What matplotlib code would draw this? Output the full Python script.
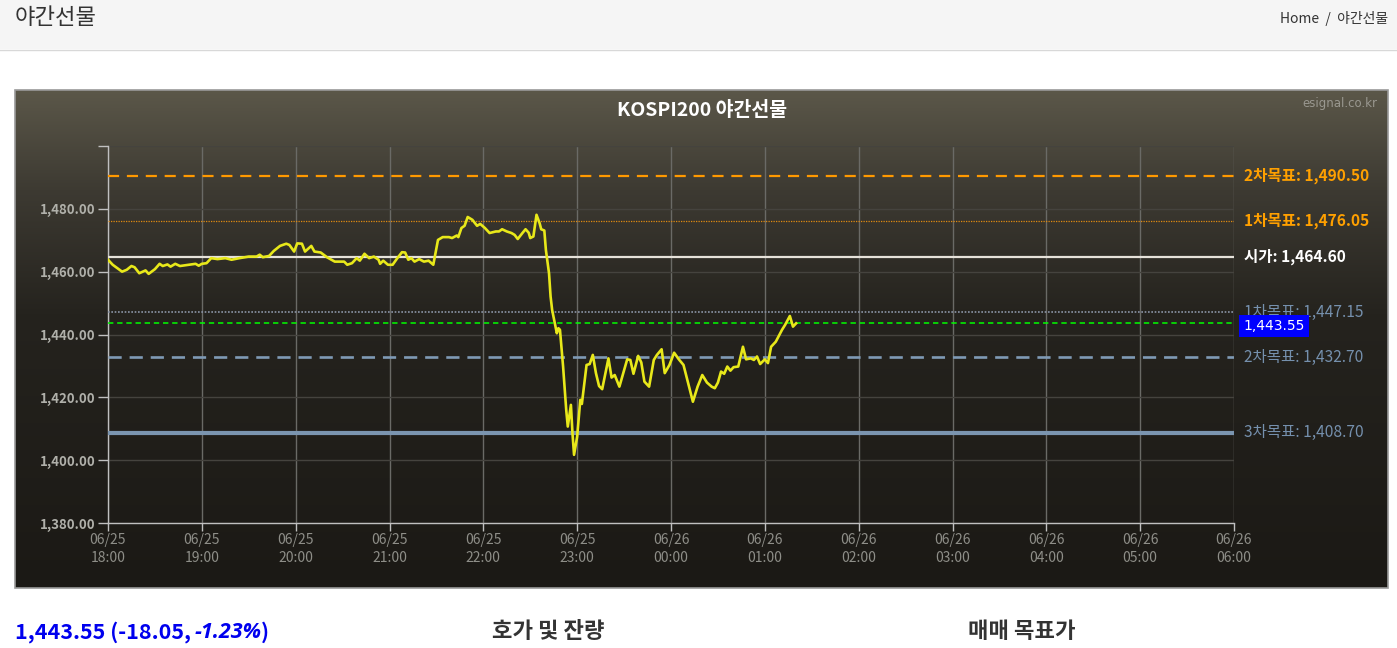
import numpy as np
import pandas as pd
import matplotlib
matplotlib.use("Agg")
import matplotlib.pyplot as plt
import matplotlib.dates as mdates
from matplotlib.patches import Rectangle
from matplotlib.colors import LinearSegmentedColormap

plt.rcParams['font.family'] = ['Noto Sans CJK KR', 'DejaVu Sans']

# minutes after 06/25 18:00 and the traded price
minutes = [0, 3, 9, 12, 15, 17, 20, 24, 26, 30, 33, 35, 38, 40, 43, 46, 52, 56, 58, 60,
           63, 66, 70, 75, 79, 84, 90, 95, 97, 99, 103, 106, 110, 114, 116, 119, 121, 124, 126, 130,
           132, 136, 140, 145, 151, 153, 156, 159, 161, 164, 167, 170, 173, 174, 176, 179, 182, 185, 188, 190,
           192, 194, 196, 199, 202, 205, 208, 211, 214, 218, 220, 223, 224, 226, 228, 230, 233, 236, 238, 241,
           244, 248, 250, 252, 255, 258, 260, 262, 265, 267, 269, 270, 272, 274, 276, 277, 279,
           280, 282, 283, 284, 287, 288, 289, 291, 293, 294, 296, 297, 298, 300, 302, 303, 306, 308, 310, 312,
           314, 316, 320, 322, 324, 327, 332, 334, 336, 339, 341, 343,
           346, 349, 351, 354, 356, 359, 362, 365, 368, 371, 374, 377, 380, 383, 386, 388, 390, 392, 394, 396,
           398, 400, 403, 406, 408, 411, 413, 415, 417, 420, 422, 424, 427, 431, 433, 436, 438, 440]
prices = [1463.8, 1462.2, 1460.0, 1460.6, 1461.8, 1461.4, 1459.5, 1460.4, 1459.3, 1460.8,
          1462.5, 1461.8, 1462.3, 1461.6, 1462.5, 1461.8, 1462.2, 1462.5, 1461.9, 1462.5,
          1462.7, 1464.3, 1464.0, 1464.3, 1463.8, 1464.3, 1464.8, 1464.8, 1465.4, 1464.6,
          1465.0, 1466.6, 1468.2, 1468.9, 1468.5, 1466.4, 1469.0, 1468.9, 1466.4, 1468.2,
          1466.4, 1466.1, 1464.6, 1463.2, 1463.2, 1462.2, 1462.7, 1464.3, 1463.5, 1465.7,
          1464.3, 1464.8, 1463.8, 1462.5, 1463.5, 1462.2, 1462.2, 1464.3, 1466.2, 1466.1,
          1463.8, 1464.3, 1463.2, 1464.0, 1463.2, 1463.5, 1462.2, 1470.1, 1471.0, 1471.0,
          1470.7, 1471.5, 1471.0, 1473.9, 1474.6, 1477.4, 1476.5, 1474.6, 1475.2, 1473.9,
          1472.3, 1472.8, 1472.8, 1473.5, 1472.8, 1472.3, 1471.7, 1470.4, 1472.3, 1473.5,
          1472.4, 1470.7, 1471.2, 1478.1, 1475.4, 1473.5, 1473.1,
          1466.9, 1459.5, 1452.1, 1447.8, 1440.4, 1442.0, 1441.5, 1429.8, 1416.0, 1410.7,
          1417.6, 1408.6, 1401.7, 1407.5, 1419.2, 1417.9, 1430.3, 1430.6, 1433.5, 1427.7,
          1423.6, 1422.6, 1432.4, 1426.3, 1427.1, 1423.4, 1432.1, 1431.9, 1427.5, 1433.2,
          1431.1, 1425.0,
          1423.4, 1431.9, 1433.5, 1435.3, 1427.7, 1430.3, 1434.2, 1432.1, 1430.3, 1424.5,
          1418.6, 1423.4, 1427.1, 1424.7, 1423.4, 1422.9, 1424.7, 1428.2, 1427.5, 1429.8,
          1428.5, 1429.6, 1429.8, 1436.1, 1432.1, 1432.4, 1431.9, 1433.0, 1430.6, 1432.1,
          1430.9, 1436.1, 1437.7, 1441.5, 1443.1, 1445.9, 1442.5, 1443.55]

last_price = 1443.55
change = -18.05
change_pct = -1.23

level_names = ["2차목표", "1차목표", "시가", "1차목표", "2차목표", "3차목표"]
level_values = [1490.50, 1476.05, 1464.60, 1447.15, 1432.70, 1408.70]

y_ticks = [1380, 1400, 1420, 1440, 1460, 1480, 1500]

# styles for the level lines (color, width, dashes, label color, label weight)
level_styles = [
    ("#ff9900", 1.6, (0, (5, 3.5)), "#ffa000", "bold"),
    ("#e08a10", 0.9, (0, (1, 1)), "#ffa000", "bold"),
    ("#e6e2da", 1.6, "-", "#ffffff", "bold"),
    ("#8a94a6", 1.2, (0, (1, 1)), "#7590ad", "normal"),
    ("#7f9ab5", 1.9, (0, (5, 3)), "#7590ad", "normal"),
    ("#7b95b0", 3.0, "-", "#7590ad", "normal"),
]

W, H = 1397, 648
fig = plt.figure(figsize=(W / 100, H / 100), dpi=100, facecolor="white")

def fx(px):
    return px / W

def fy(py):
    return 1 - py / H

# page header
fig.patches.append(Rectangle((0, fy(49)), 1, 49 / H, transform=fig.transFigure,
                             facecolor="#f5f5f5", edgecolor="none", zorder=0))
fig.add_artist(plt.Line2D([0, 1], [fy(49.5), fy(49.5)], color="#d8d8d8", lw=1))
fig.text(fx(15), fy(18), "야간선물", fontsize=16, color="#333333", va="center", ha="left")
fig.text(fx(1388), fy(19), "Home  /  야간선물", fontsize=10, color="#333333", va="center", ha="right")

# chart panel with gradient
px0, py0, px1, py1 = 15, 90, 1388, 588
bg = fig.add_axes([fx(px0), fy(py1), (px1 - px0) / W, (py1 - py0) / H], zorder=0)
cmap = LinearSegmentedColormap.from_list(
    "panel", [(0, "#5b5749"), (0.2, "#3d3a32"), (0.45, "#25231e"), (1, "#1b1915")])
grad = np.linspace(0, 1, 256).reshape(-1, 1)
bg.imshow(grad, aspect="auto", cmap=cmap, extent=[0, 1, 0, 1])
bg.set_axis_off()
fig.patches.append(Rectangle((fx(px0), fy(py1)), (px1 - px0) / W, (py1 - py0) / H,
                             transform=fig.transFigure, facecolor="none",
                             edgecolor="#9a9a9a", lw=1.2, zorder=5))

fig.text(fx(702), fy(110), "KOSPI200 야간선물", fontsize=14, fontweight="bold",
         color="white", ha="center", va="center")
fig.text(fx(1377), fy(104), "esignal.co.kr", fontsize=8.5, color="#9a9890",
         ha="right", va="center", family=["DejaVu Sans"])

# main plot
ax = fig.add_axes([fx(108), fy(523), (1234 - 108) / W, (523 - 146) / H], zorder=2)
ax.set_facecolor("none")

t0 = pd.Timestamp("2025-06-25 18:00")
times = t0 + pd.to_timedelta(minutes, unit="min")

ax.set_xlim(t0, t0 + pd.Timedelta(hours=12))
ax.set_ylim(1380, 1500)

ax.xaxis.set_major_locator(mdates.HourLocator())
ax.xaxis.set_major_formatter(mdates.DateFormatter("%m/%d\n%H:%M"))
ax.set_yticks(y_ticks)
ax.set_yticklabels([f"{v:,.2f}" if v < 1500 else "" for v in y_ticks])

ax.grid(axis="x", color="#6a6a66", lw=1)
ax.grid(axis="y", color="#45433e", lw=1)
ax.set_axisbelow(True)
for s in ["top", "right"]:
    ax.spines[s].set_visible(False)
for s in ["left", "bottom"]:
    ax.spines[s].set_color("#c0c0c0")
    ax.spines[s].set_linewidth(1)
ax.tick_params(axis="y", colors="#c0c0c0", length=7, width=1, pad=2,
               labelsize=9.5, labelcolor="#b0b0aa")
ax.tick_params(axis="x", colors="#c0c0c0", length=6, width=1, pad=1,
               labelsize=10, labelcolor="#8e8e88")
for lab in ax.get_yticklabels():
    lab.set_fontweight("bold")
for lab in ax.get_xticklabels():
    lab.set_linespacing(1.35)

for val, name, (c, lw, ls, lc, wt) in zip(level_values, level_names, level_styles):
    ax.axhline(val, color=c, lw=lw, linestyle=ls, zorder=3)
    ax.text(1.0089, val, f"{name}: {val:,.2f}", transform=ax.get_yaxis_transform(),
            color=lc, fontsize=11.2, fontweight=wt, va="center", ha="left", clip_on=False)

ax.axhline(last_price, color="#00ff00", lw=1.1, linestyle=(0, (3.5, 2.5)), zorder=3)
ax.text(1.0085, last_price - 0.8, f"{last_price:,.2f}", transform=ax.get_yaxis_transform(),
        color="white", fontsize=10, va="center", ha="left", zorder=10, family=["DejaVu Sans"],
        bbox=dict(boxstyle="square,pad=0.3", facecolor="#0000ff", edgecolor="none"))

ax.plot(times, prices, color="#e8e81a", lw=1.9, zorder=4, solid_joinstyle="round")

# text below the chart
renderer = fig.canvas.get_renderer()
parts = [(f"{last_price:,.2f} ({change:.2f}, ", "normal", ["Noto Sans CJK KR"]),
         (f"{change_pct:.2f}%", "italic", ["Open Sans", "DejaVu Sans"]),
         (")", "normal", ["Noto Sans CJK KR"])]
x = fx(15)
for s, style, fam in parts:
    t = fig.text(x, fy(632), s, fontsize=15.5, fontweight="bold", fontstyle=style,
                 color="#0000ee", ha="left", va="center", family=fam)
    bb = t.get_window_extent(renderer)
    x = bb.x1 / W - 1 / W

fig.text(fx(492), fy(632), "호가 및 잔량", fontsize=16, fontweight="bold",
         color="#333333", ha="left", va="center")
fig.text(fx(968), fy(632), "매매 목표가", fontsize=16, fontweight="bold",
         color="#333333", ha="left", va="center")

fig.savefig("out.png", dpi=100, facecolor="white")
